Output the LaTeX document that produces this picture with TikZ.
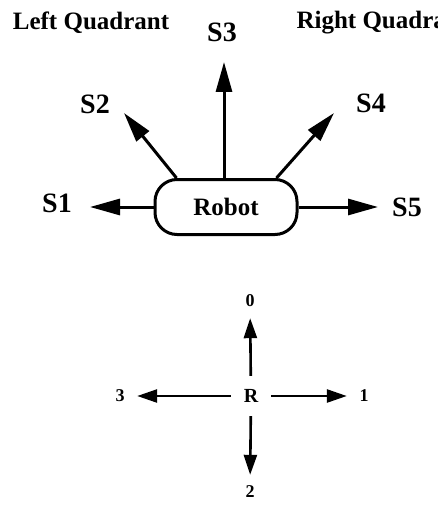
\documentclass[tikz,border=0pt]{standalone}
\usepackage{fontspec}
\setmainfont{Liberation Serif}
\usetikzlibrary{arrows.meta}

\begin{document}
\begin{tikzpicture}[x=1pt,y=-1pt,
		quad/.style={font=\fontsize{25}{30}\selectfont\bfseries},
		sname/.style={font=\fontsize{28}{32}\selectfont\bfseries},
		dir/.style={font=\fontsize{18}{22}\selectfont\bfseries, circle, inner sep=0pt, minimum size=34pt},
		sensor/.style={line width=3pt, -{Triangle[length=30pt,width=16pt]}},
		move/.style={line width=2.6pt, -{Triangle[length=20pt,width=13pt]}}]
		\useasboundingbox (0,0) rectangle (438,508);
		\clip (0,0) rectangle (438,508);
		
		% Quadrant headings
		\node[quad] (lq) at (91,23) {Left Quadrant};
		\node[quad, anchor=west] (rq) at (293,23) {Right Quadrant};
		
		% Robot body
		\node[draw, line width=3pt, rounded corners=22pt, minimum width=142pt, minimum height=55pt,
			font=\fontsize{25}{30}\selectfont\bfseries] (robot) at (226,207) {Robot};
		
		% Sensor names
		\node[sname] (s1) at (57,203) {S1};
		\node[sname] (s2) at (95,104) {S2};
		\node[sname] (s3) at (222,32) {S3};
		\node[sname] (s4) at (371,103) {S4};
		\node[sname] (s5) at (407,207) {S5};
		
		% Arrow tips of the sensors
		\coordinate (t1) at (90,207);
		\coordinate (t2) at (124,113);
		\coordinate (t3) at (224,62);
		\coordinate (t4) at (334,113);
		\coordinate (t5) at (378,207);
		
		\draw[sensor] (robot.west) -- (t1);
		\draw[sensor] ([xshift=23pt]robot.north west) -- (t2);
		\draw[sensor] ([xshift=-2pt]robot.north) -- (t3);
		\draw[sensor] ([xshift=-22pt]robot.north east) -- (t4);
		\draw[sensor] (robot.east) -- (t5);
		
		% Directions
		\node[circle, inner sep=0pt, minimum size=40pt, font=\fontsize{20}{24}\selectfont\bfseries] (r) at (251,396) {R};
		\node[dir] (d0) at (250,301) {0};
		\node[dir] (d1) at (364,396) {1};
		\node[dir] (d2) at (250,492) {2};
		\node[dir] (d3) at (120,396) {3};
		
		\draw[move] (r) -- (d0);
		\draw[move] (r) -- (d1);
		\draw[move] (r) -- (d2);
		\draw[move] (r) -- (d3);
	\end{tikzpicture}
\end{document}
